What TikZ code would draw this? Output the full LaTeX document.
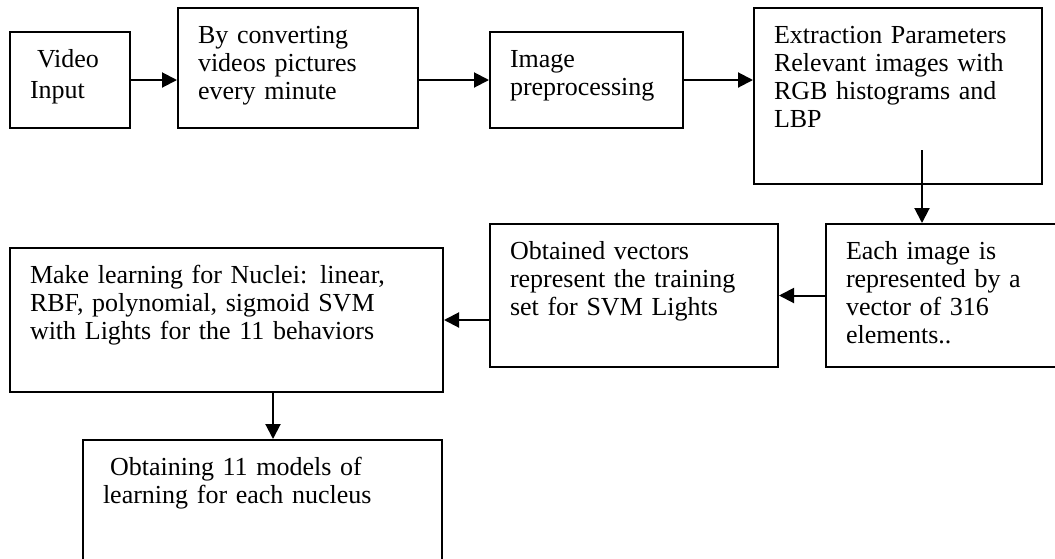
\documentclass[tikz,border=0pt]{standalone}
\usepackage{fontspec}
\setmainfont{Liberation Serif}
\usetikzlibrary{positioning,arrows.meta,calc}

\tikzset{
  stage/.style={draw,line width=1pt,anchor=north west,inner xsep=10pt,inner ysep=0pt,
    text height=17.5pt,align=left,font=\fontsize{13}{14}\selectfont},
  arr/.style={-{Triangle[length=7.5pt,width=7.5pt]},line width=1pt}
}

\begin{document}
\begin{tikzpicture}[x=0.5pt,y=-0.5pt]
  \useasboundingbox (0,0) rectangle (1055,558);
  \clip (0,0) rectangle (1055,558);
  \node[stage,text width=40pt,text depth=30.5pt] (video) at (9,31){\hspace*{3.5pt}Video\\[1.5pt]Input};
  \node[stage,text width=100pt,text depth=42.5pt] (frames) at (177,7){By converting\\videos pictures\\every minute};
  \node[stage,text width=76.5pt,text depth=30.5pt] (prep) at (489,31){Image\\preprocessing};
  \node[stage,text width=124pt,text depth=70.5pt] (extract) at (753,7){Extraction Parameters\\Relevant images with\\RGB histograms and\\LBP};
  \node[stage,text width=105pt,text depth=54pt] (vector) at (825,223){Each image is\\represented by a\\vector of 316\\elements..};
  \node[stage,text width=124pt,text depth=54pt] (trainset) at (489,223){Obtained vectors\\represent the training\\set for SVM Lights};
  \node[stage,text width=196.5pt,text depth=54.5pt] (learn) at (9,247){Make learning for Nuclei: linear,\\RBF, polynomial, sigmoid SVM\\with Lights for the 11 behaviors};
  \node[stage,text width=159.5pt,text depth=57.5pt] (models) at (82,439){\hspace*{3.5pt}Obtaining 11 models of\\learning for each nucleus};
  \coordinate (drop) at (922,150);
  \coordinate (split) at (273,0);
  \draw[arr](video.east)--(video.east -| frames.west);
  \draw[arr](frames.east |- prep.west)--(prep.west);
  \draw[arr](prep.east)--(prep.east -| extract.west);
  \draw[arr](drop)--(drop |- vector.north);
  \draw[arr](vector.west)--(vector.west -| trainset.east);
  \draw[arr](learn.east -| trainset.west)--(learn.east);
  \draw[arr](learn.south -| split)--(models.north -| split);
\end{tikzpicture}
\end{document}
